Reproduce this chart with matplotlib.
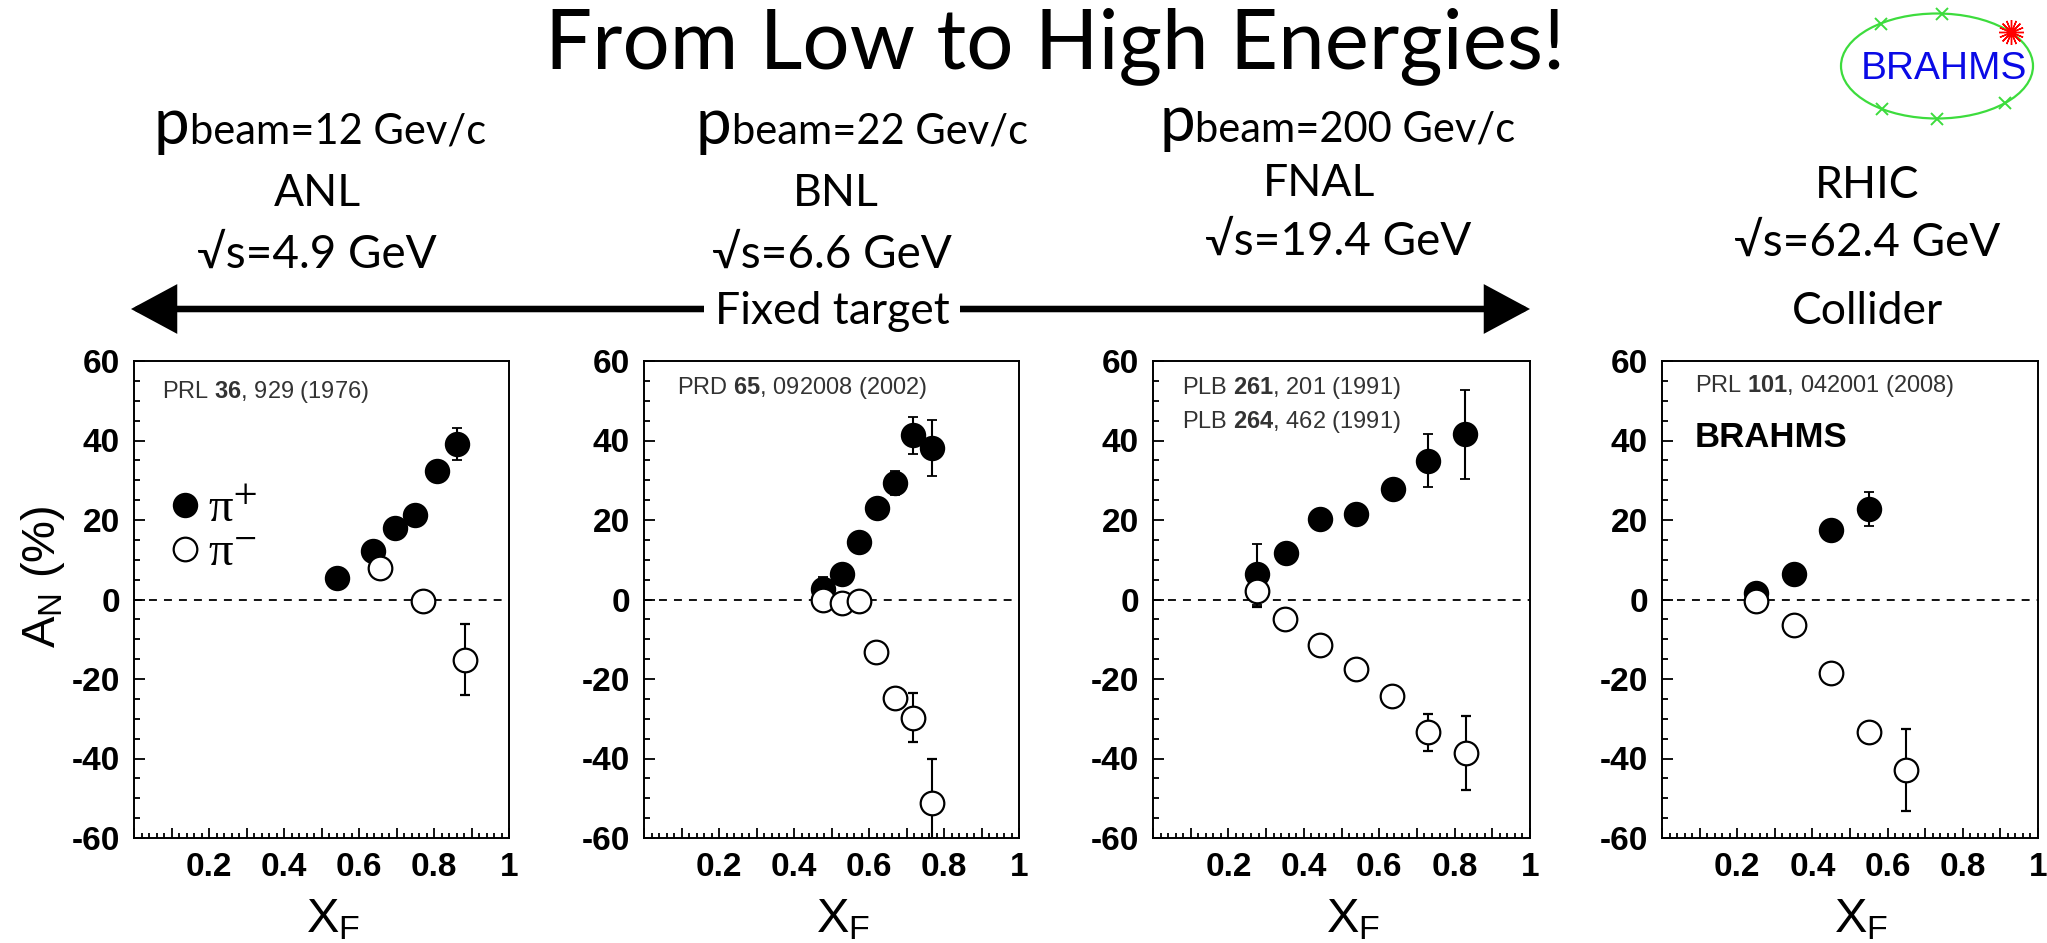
import numpy as np
import matplotlib
matplotlib.use('Agg')
import matplotlib.pyplot as plt
from matplotlib.patches import Ellipse, FancyArrowPatch
from matplotlib.ticker import MultipleLocator, FuncFormatter
from matplotlib.font_manager import FontProperties

plt.rcParams['font.family'] = ['Liberation Sans', 'DejaVu Sans']
plt.rcParams['mathtext.fontset'] = 'custom'
plt.rcParams['mathtext.rm'] = 'Liberation Sans'
plt.rcParams['mathtext.bf'] = 'Liberation Sans:bold'
plt.rcParams['mathtext.it'] = 'Liberation Sans:italic'
plt.rcParams['axes.unicode_minus'] = False

HEAD = ['Lato', 'DejaVu Sans']

# ANL, sqrt(s) = 4.9 GeV
anl_xf_pip = [0.54, 0.637, 0.697, 0.750, 0.807, 0.860]
anl_an_pip = [5.5, 12.3, 18.1, 21.2, 32.3, 39.2]
anl_err_pip = [1.5, 1.5, 1.5, 1.5, 2.0, 4.0]
anl_xf_pim = [0.655, 0.771, 0.882]
anl_an_pim = [8.0, -0.4, -15.1]
anl_err_pim = [1.5, 1.5, 8.9]

# BNL, sqrt(s) = 6.6 GeV
bnl_xf_pip = [0.476, 0.527, 0.572, 0.620, 0.669, 0.718, 0.769]
bnl_an_pip = [2.7, 6.3, 14.5, 23.1, 29.4, 41.3, 38.1]
bnl_err_pip = [3.0, 1.5, 1.5, 1.5, 3.0, 4.7, 7.0]
bnl_xf_pim = [0.476, 0.527, 0.572, 0.619, 0.668, 0.718, 0.769]
bnl_an_pim = [0.0, -1.0, -0.4, -13.2, -24.7, -29.7, -51.2]
bnl_err_pim = [1.5, 1.5, 1.5, 1.5, 2.0, 6.2, 11.0]

# FNAL, sqrt(s) = 19.4 GeV
fnal_xf_pip = [0.276, 0.352, 0.443, 0.539, 0.636, 0.729, 0.828]
fnal_an_pip = [6.3, 11.8, 20.3, 21.4, 27.7, 34.9, 41.6]
fnal_err_pip = [7.6, 1.5, 1.5, 1.5, 2.5, 6.7, 11.2]
fnal_xf_pim = [0.276, 0.351, 0.442, 0.539, 0.635, 0.729, 0.829]
fnal_an_pim = [2.2, -5.0, -11.4, -17.5, -24.4, -33.4, -38.5]
fnal_err_pim = [4.0, 1.5, 1.5, 1.5, 1.5, 4.7, 9.3]

# RHIC (BRAHMS), sqrt(s) = 62.4 GeV
rhic_xf_pip = [0.251, 0.351, 0.450, 0.551]
rhic_an_pip = [1.7, 6.3, 17.4, 22.7]
rhic_err_pip = [1.5, 1.5, 1.5, 4.3]
rhic_xf_pim = [0.251, 0.351, 0.450, 0.551, 0.650]
rhic_an_pim = [-0.4, -6.4, -18.5, -33.4, -43.0]
rhic_err_pim = [1.5, 1.5, 1.5, 1.5, 10.3]

refs = [
    [r'PRL $\mathbf{36}$, 929 (1976)'],
    [r'PRD $\mathbf{65}$, 092008 (2002)'],
    [r'PLB $\mathbf{261}$, 201 (1991)', r'PLB $\mathbf{264}$, 462 (1991)'],
    [r'PRL $\mathbf{101}$, 042001 (2008)'],
]

W, H = 2047, 943
fig = plt.figure(figsize=(W / 100, H / 100), dpi=100)

# pixel-space overlay for the header, arrow and logo
bg = fig.add_axes([0, 0, 1, 1])
bg.set_xlim(0, W)
bg.set_ylim(H, 0)
bg.axis('off')

frames = [(134, 509), (644, 1019), (1153, 1530), (1662, 2038)]
top, bottom = 361, 838
ref_pos = [(0.076, [0.936]), (0.089, [0.944]), (0.077, [0.944, 0.872]), (0.087, [0.948])]

data = [
    (anl_xf_pip, anl_an_pip, anl_err_pip, anl_xf_pim, anl_an_pim, anl_err_pim),
    (bnl_xf_pip, bnl_an_pip, bnl_err_pip, bnl_xf_pim, bnl_an_pim, bnl_err_pim),
    (fnal_xf_pip, fnal_an_pip, fnal_err_pip, fnal_xf_pim, fnal_an_pim, fnal_err_pim),
    (rhic_xf_pip, rhic_an_pip, rhic_err_pip, rhic_xf_pim, rhic_an_pim, rhic_err_pim),
]


def xf_fmt(v, pos):
    k = int(round(v * 10))
    if k == 0 or k % 2:
        return ''
    return '1' if k == 10 else '%.1f' % v


axes = []
for i, ((x0, x1), d) in enumerate(zip(frames, data)):
    ax = fig.add_axes([x0 / W, (H - bottom) / H, (x1 - x0) / W, (bottom - top) / H])
    ax.set_xlim(0, 1)
    ax.set_ylim(-60, 60)
    ax.axhline(0, color='k', lw=1.3, ls=(0, (4.4, 3.9)), zorder=1)
    xp, yp, ep, xm, ym, em = d
    hp = ax.errorbar(xp, yp, yerr=ep, fmt='o', ms=17, mfc='k', mec='k', mew=1.3,
                     ecolor='k', elinewidth=1.5, capsize=3.6, capthick=1.5, zorder=3)
    hm = ax.errorbar(xm, ym, yerr=em, fmt='o', ms=17, mfc='white', mec='k', mew=1.6,
                     ecolor='k', elinewidth=1.5, capsize=3.6, capthick=1.5, zorder=3)
    for s in ax.spines.values():
        s.set_linewidth(1.4)
    ax.xaxis.set_major_locator(MultipleLocator(0.1))
    ax.xaxis.set_minor_locator(MultipleLocator(0.02))
    ax.yaxis.set_major_locator(MultipleLocator(20))
    ax.yaxis.set_minor_locator(MultipleLocator(5))
    ax.xaxis.set_major_formatter(FuncFormatter(xf_fmt))
    ax.tick_params(which='both', direction='in', top=False, right=False,
                   width=1.3, labelsize=24, pad=10)
    ax.tick_params(axis='x', which='major', length=7)
    ax.tick_params(axis='x', which='minor', length=3.5)
    ax.tick_params(axis='y', which='major', length=8)
    ax.tick_params(axis='y', which='minor', length=4)
    plt.setp(ax.get_xticklabels() + ax.get_yticklabels(), fontweight='bold')

    rx, rys = ref_pos[i]
    for line, ry in zip(refs[i], rys):
        ax.text(rx, ry, line, transform=ax.transAxes, fontsize=17,
                color='#333333', va='center', ha='left')
    ax.text(0.53, -0.197, r'$\mathrm{X}_\mathrm{F}$', transform=ax.transAxes,
            fontsize=35, ha='center', va='baseline')
    axes.append((ax, hp, hm))

# BRAHMS tag and pion legend
axes[3][0].text(0.087, 0.84, 'BRAHMS', transform=axes[3][0].transAxes,
                fontsize=25, fontweight='bold', va='center', ha='left')
ax0, hp0, hm0 = axes[0]
ax0.legend([hp0[0], hm0[0]], ['π$^{+}$', 'π$^{-}$'],
           prop=FontProperties(family='Liberation Serif', size=35, math_fontfamily='stix'),
           loc='center left', bbox_to_anchor=(0.1, 17.1),
           bbox_transform=ax0.transData, frameon=False, borderpad=0,
           borderaxespad=0, handlelength=0.55, handletextpad=0.2,
           labelspacing=0.0, numpoints=1)

bg.text(43, 577, r'A$_\mathrm{N}$ (%)', rotation=90, ha='center', va='center',
        fontsize=34)

# header
bg.text(1055, 68, 'From Low to High Energies!', family=HEAD, fontsize=60,
        ha='center', va='baseline')

beams = ['beam=12 Gev/c', 'beam=22 Gev/c', 'beam=200 Gev/c']
beam_pos = [(154, 144), (696, 144), (1159, 141)]
for label, (bx, by) in zip(beams, beam_pos):
    t = bg.text(bx, by, 'p', family=HEAD, fontsize=46, va='baseline', ha='left')
    bg.annotate(label, xy=(1, by), xycoords=(t, 'data'), family=HEAD,
                fontsize=30, va='baseline', ha='left')

labs = ['ANL', 'BNL', 'FNAL', 'RHIC']
lab_pos = [(317, 206), (836, 206), (1319, 196), (1867, 198)]
roots = ['√s=4.9 GeV', '√s=6.6 GeV', '√s=19.4 GeV', '√s=62.4 GeV']
root_pos = [(317, 268), (832, 268), (1338, 255), (1867, 256)]
for s, (x, y) in zip(labs, lab_pos):
    bg.text(x, y, s, family=HEAD, fontsize=32, ha='center', va='baseline')
for s, (x, y) in zip(roots, root_pos):
    bg.text(x, y, s, family=HEAD, fontsize=33, ha='center', va='baseline')
bg.text(1867, 324, 'Collider', family=HEAD, fontsize=32, ha='center', va='baseline')

arrow = FancyArrowPatch((131, 309), (1530, 309),
                        arrowstyle='<|-|>,head_length=2.6,head_width=1.4',
                        mutation_scale=10, lw=4.7, color='k',
                        shrinkA=0, shrinkB=0, joinstyle='miter')
bg.add_patch(arrow)
bg.text(832, 324, 'Fixed target', family=HEAD, fontsize=32, ha='center',
        va='baseline', bbox=dict(fc='white', ec='none', pad=8), zorder=5)

# BRAHMS logo
green = '#3ddc3d'
cx, cy, ew, eh = 1937, 66, 192, 105
bg.add_patch(Ellipse((cx, cy), ew, eh, fill=False, ec=green, lw=1.6))
tick_ang = np.radians([-126, -87, 45, 90, 125])
bg.plot(cx + ew / 2 * np.cos(tick_ang), cy + eh / 2 * np.sin(tick_ang), 'x',
        color=green, ms=8, mew=1.4)
star = np.radians(-40)
bg.plot([cx + ew / 2 * np.cos(star)], [cy + eh / 2 * np.sin(star)],
        marker=(16, 2, 0), color='red', ms=18, mew=1.0, ls='none')
bg.plot([cx + ew / 2 * np.cos(star)], [cy + eh / 2 * np.sin(star)],
        'o', color='red', ms=5)
bg.text(1944, 69, 'BRAHMS', color='#0a0ae6', fontsize=28, ha='center', va='center')

fig.savefig('out.png', dpi=100, facecolor='white')
